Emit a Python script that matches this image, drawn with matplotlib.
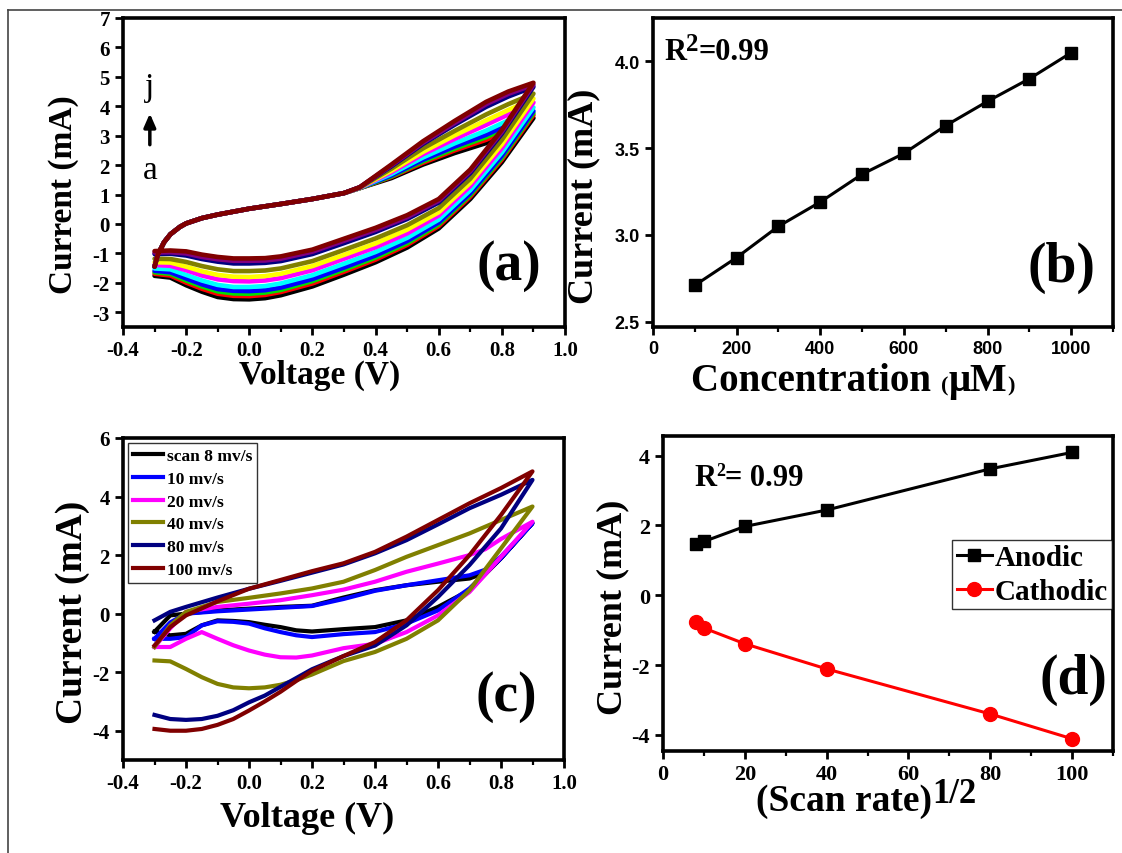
import matplotlib
matplotlib.use("Agg")
import matplotlib.pyplot as plt
from matplotlib.lines import Line2D
from matplotlib.transforms import IdentityTransform
from matplotlib.ticker import MultipleLocator

# ---------------- data ----------------
# Panel (a): CV curves a..j (+ blank) at increasing concentration
A_COLORS = ["#000000", "#FF0000", "#00E000", "#0000FF", "#00FFFF", "#FF00FF",
            "#FFFF00", "#808000", "#000080", "#800080", "#800000"]
A_V_FWD_COMMON = [-0.3, -0.29, -0.27, -0.25, -0.22, -0.2, -0.15, -0.1, 0.0, 0.1, 0.2, 0.3]
A_I_FWD_COMMON = [-1.45, -1.05, -0.62, -0.35, -0.1, 0.02, 0.2, 0.32, 0.52, 0.68, 0.85, 1.05]
A_V_FWD_DIV = [0.35, 0.45, 0.55, 0.65, 0.75, 0.82]
A_I_FWD_DIV = [
    [1.22, 1.56, 2.02, 2.41, 2.75, 3.10],
    [1.22, 1.60, 2.08, 2.50, 2.86, 3.21],
    [1.22, 1.62, 2.13, 2.56, 2.95, 3.30],
    [1.23, 1.65, 2.18, 2.63, 3.03, 3.38],
    [1.23, 1.70, 2.26, 2.74, 3.17, 3.52],
    [1.23, 1.76, 2.37, 2.89, 3.37, 3.72],
    [1.24, 1.81, 2.45, 3.01, 3.52, 3.87],
    [1.24, 1.88, 2.57, 3.16, 3.72, 4.07],
    [1.25, 1.96, 2.72, 3.37, 3.98, 4.33],
    [1.25, 1.99, 2.76, 3.43, 4.07, 4.42],
    [1.25, 2.02, 2.81, 3.50, 4.15, 4.50],
]
A_V_REV = [0.9, 0.8, 0.7, 0.6, 0.5, 0.4, 0.3, 0.2, 0.1, 0.05, 0.0, -0.05, -0.1, -0.15,
           -0.2, -0.25, -0.3]
A_I_REV = [
    [3.60, 2.10, 0.85, -0.15, -0.80, -1.30, -1.72, -2.12, -2.42, -2.52, -2.56, -2.55, -2.48, -2.30, -2.08, -1.82, -1.76],
    [3.70, 2.19, 0.93, -0.07, -0.71, -1.21, -1.62, -2.02, -2.31, -2.41, -2.45, -2.44, -2.37, -2.20, -1.99, -1.75, -1.69],
    [3.77, 2.25, 0.99, -0.01, -0.65, -1.14, -1.55, -1.94, -2.24, -2.33, -2.37, -2.36, -2.29, -2.12, -1.92, -1.69, -1.64],
    [3.84, 2.32, 1.05, 0.05, -0.58, -1.07, -1.48, -1.87, -2.16, -2.25, -2.28, -2.27, -2.21, -2.05, -1.85, -1.64, -1.59],
    [3.96, 2.43, 1.15, 0.15, -0.47, -0.95, -1.35, -1.74, -2.02, -2.11, -2.14, -2.14, -2.07, -1.92, -1.73, -1.54, -1.51],
    [4.13, 2.58, 1.29, 0.29, -0.32, -0.79, -1.18, -1.57, -1.84, -1.92, -1.95, -1.94, -1.88, -1.75, -1.57, -1.42, -1.39],
    [4.26, 2.71, 1.40, 0.40, -0.19, -0.66, -1.05, -1.43, -1.69, -1.77, -1.80, -1.79, -1.73, -1.61, -1.45, -1.31, -1.30],
    [4.43, 2.86, 1.54, 0.54, -0.04, -0.49, -0.88, -1.26, -1.51, -1.58, -1.60, -1.60, -1.54, -1.43, -1.29, -1.19, -1.18],
    [4.66, 3.07, 1.73, 0.73, 0.17, -0.27, -0.65, -1.02, -1.26, -1.32, -1.34, -1.34, -1.28, -1.19, -1.07, -1.01, -1.02],
    [4.73, 3.13, 1.79, 0.79, 0.23, -0.20, -0.57, -0.94, -1.18, -1.24, -1.25, -1.25, -1.20, -1.12, -1.00, -0.96, -0.97],
    [4.80, 3.20, 1.85, 0.85, 0.30, -0.13, -0.50, -0.87, -1.10, -1.16, -1.17, -1.17, -1.12, -1.04, -0.93, -0.90, -0.92],
]

# Panel (b): calibration
B_CONC = [100, 200, 300, 400, 500, 600, 700, 800, 900, 1000]
B_CURR = [2.71, 2.87, 3.05, 3.19, 3.35, 3.47, 3.63, 3.77, 3.90, 4.05]

# Panel (c): CVs at different scan rates
C_LABELS = ["scan 8 mv/s", "10 mv/s", "20 mv/s", "40 mv/s", "80 mv/s", "100 mv/s"]
C_COLORS = ["#000000", "#0000FF", "#FF00FF", "#808000", "#000080", "#800000"]
C_V_FWD = [-0.3, -0.25, -0.2, -0.1, 0.0, 0.1, 0.2, 0.3, 0.4, 0.5, 0.6, 0.7, 0.75, 0.8, 0.9]
C_I_FWD = [
    [-0.62, -0.06, 0.00, 0.11, 0.17, 0.23, 0.27, 0.55, 0.80, 0.97, 1.09, 1.20, 1.40, 1.90, 3.09],
    [-0.86, -0.30, 0.00, 0.08, 0.14, 0.20, 0.26, 0.50, 0.78, 0.97, 1.14, 1.31, 1.50, 1.95, 3.09],
    [-1.14, -0.50, 0.06, 0.23, 0.34, 0.46, 0.63, 0.82, 1.09, 1.43, 1.71, 2.00, 2.20, 2.55, 3.14],
    [-1.14, -0.40, 0.06, 0.40, 0.54, 0.69, 0.86, 1.09, 1.49, 1.94, 2.34, 2.74, 2.97, 3.20, 3.66],
    [-0.23, 0.06, 0.23, 0.55, 0.85, 1.12, 1.40, 1.68, 2.06, 2.51, 3.05, 3.60, 3.83, 4.06, 4.57],
    [-1.09, -0.46, -0.06, 0.42, 0.85, 1.15, 1.45, 1.72, 2.11, 2.63, 3.20, 3.77, 4.03, 4.29, 4.86],
]
C_V_REV = [0.9, 0.8, 0.7, 0.6, 0.5, 0.4, 0.3, 0.2, 0.15, 0.1, 0.05, 0.0, -0.05, -0.1,
           -0.15, -0.2, -0.25, -0.3]
C_I_REV = [
    [3.09, 1.89, 0.80, 0.23, -0.23, -0.46, -0.53, -0.61, -0.57, -0.46, -0.38, -0.29, -0.25, -0.23, -0.40, -0.69, -0.74, -0.62],
    [3.09, 1.89, 0.86, 0.11, -0.34, -0.63, -0.70, -0.80, -0.74, -0.63, -0.50, -0.34, -0.28, -0.26, -0.40, -0.80, -0.86, -0.86],
    [3.14, 1.94, 0.74, -0.06, -0.63, -1.03, -1.18, -1.43, -1.50, -1.49, -1.40, -1.26, -1.08, -0.86, -0.63, -0.86, -1.14, -1.14],
    [3.66, 2.23, 0.80, -0.23, -0.86, -1.31, -1.62, -2.08, -2.27, -2.43, -2.52, -2.55, -2.52, -2.40, -2.17, -1.89, -1.63, -1.60],
    [4.57, 2.91, 1.66, 0.57, -0.40, -1.09, -1.45, -1.90, -2.20, -2.50, -2.80, -3.03, -3.30, -3.49, -3.60, -3.63, -3.60, -3.46],
    [4.86, 3.37, 2.00, 0.80, -0.23, -0.97, -1.45, -1.95, -2.30, -2.67, -3.00, -3.31, -3.60, -3.80, -3.94, -4.00, -4.00, -3.94],
]

# Panel (d): peak current vs scan rate
D_RATE = [8, 10, 20, 40, 80, 100]
D_ANODIC = [1.47, 1.54, 1.97, 2.44, 3.62, 4.09]
D_CATHODIC = [-0.77, -0.94, -1.39, -2.11, -3.40, -4.11]

# ---------------- figure ----------------
W, H = 1122, 854
plt.rcParams["font.family"] = ["Liberation Serif", "DejaVu Serif"]
plt.rcParams["font.weight"] = "bold"
plt.rcParams["axes.unicode_minus"] = False

fig = plt.figure(figsize=(W / 100, H / 100), dpi=100)
renderer = fig.canvas.get_renderer()


def rect(l, t, r, b):
    return [l / W, 1 - b / H, (r - l) / W, (b - t) / H]


def style(ax, fs, sans=False):
    for s in ax.spines.values():
        s.set_linewidth(2.6)
    ax.tick_params(which="major", direction="out", length=6, width=2,
                   labelsize=fs, top=False, right=False)
    ax.tick_params(which="minor", direction="out", length=3.5, width=1.6,
                   top=False, right=False)
    for lab in ax.get_xticklabels() + ax.get_yticklabels():
        lab.set_fontweight("bold")
        if sans:
            lab.set_fontfamily(["Liberation Sans", "DejaVu Sans"])


def chain(pieces, x, y):
    """pieces: (text, size, raise_px); x,y in pixels from bottom-left (baseline)."""
    for text, size, rise in pieces:
        t = fig.text(x, y + rise, text, fontsize=size, fontweight="bold",
                     ha="left", va="baseline", transform=IdentityTransform())
        bb = t.get_window_extent(renderer=renderer)
        x = bb.x1


# ---- (a)
axa = fig.add_axes(rect(123, 19, 565, 328))
for k, col in enumerate(A_COLORS):
    v = A_V_FWD_COMMON + A_V_FWD_DIV + A_V_REV
    i = A_I_FWD_COMMON + A_I_FWD_DIV[k] + A_I_REV[k]
    axa.plot(v, i, color=col, lw=3.3, solid_joinstyle="round", solid_capstyle="round")
axa.set_xlim(-0.4, 1.0)
axa.set_ylim(-3.5, 7)
axa.xaxis.set_minor_locator(MultipleLocator(0.1))
axa.yaxis.set_major_locator(MultipleLocator(1))
axa.set_xticks([-0.4, -0.2, 0.0, 0.2, 0.4, 0.6, 0.8, 1.0])
axa.set_xticklabels(["-0.4", "-0.2", "0.0", "0.2", "0.4", "0.6", "0.8", "1.0"])
style(axa, 15)
axa.text(-0.315, 4.65, "j", fontsize=24, fontweight="normal", ha="center", va="center")
axa.text(-0.315, 1.85, "a", fontsize=24, fontweight="normal", ha="center", va="center")
axa.annotate("", xy=(-0.315, 3.85), xytext=(-0.315, 2.6),
             arrowprops=dict(arrowstyle="-|>,head_length=0.8,head_width=0.35",
                             color="black", lw=2.5))
axa.text(0.874, 0.2, "(a)", transform=axa.transAxes, fontsize=40,
         ha="center", va="center")

# ---- (b)
axb = fig.add_axes(rect(653, 19, 1113, 328))
axb.plot(B_CONC, B_CURR, color="black", lw=2.2, marker="s", ms=9)
axb.set_xlim(0, 1100)
axb.set_ylim(2.47, 4.25)
axb.xaxis.set_major_locator(MultipleLocator(200))
axb.xaxis.set_minor_locator(MultipleLocator(100))
axb.set_yticks([2.5, 3.0, 3.5, 4.0])
axb.set_yticklabels(["2.5", "3.0", "3.5", "4.0"])
style(axb, 13, sans=True)
axb.text(0.889, 0.195, "(b)", transform=axb.transAxes, fontsize=40,
         ha="center", va="center")

# ---- (c)
axc = fig.add_axes(rect(123, 439, 564, 761))
for k, col in enumerate(C_COLORS):
    axc.plot(C_V_FWD + C_V_REV, C_I_FWD[k] + C_I_REV[k], color=col, lw=3.0,
             label=C_LABELS[k], solid_joinstyle="round")
axc.set_xlim(-0.4, 1.0)
axc.set_ylim(-5, 6)
axc.set_xticks([-0.4, -0.2, 0.0, 0.2, 0.4, 0.6, 0.8, 1.0])
axc.set_xticklabels(["-0.4", "-0.2", "0.0", "0.2", "0.4", "0.6", "0.8", "1.0"])
axc.xaxis.set_minor_locator(MultipleLocator(0.1))
axc.set_yticks([-4, -2, 0, 2, 4, 6])
style(axc, 15)
legc = axc.legend(loc="upper left", bbox_to_anchor=(0.011, 0.985), borderaxespad=0,
                  frameon=True, fancybox=False, edgecolor="black",
                  borderpad=0.3, labelspacing=0.38, handlelength=1.7,
                  handletextpad=0.25, prop={"weight": "bold", "size": 12.5})
legc.get_frame().set_linewidth(1.0)
axc.text(0.869, 0.2, "(c)", transform=axc.transAxes, fontsize=40,
         ha="center", va="center")

# ---- (d)
axd = fig.add_axes(rect(663, 437, 1113, 752))
axd.plot(D_RATE, D_ANODIC, color="black", lw=2.2, marker="s", ms=9, label="Anodic")
axd.plot(D_RATE, D_CATHODIC, color="#FF0000", lw=2.2, marker="o", ms=10, label="Cathodic")
axd.set_xlim(0, 110)
axd.set_ylim(-4.46, 4.56)
axd.xaxis.set_major_locator(MultipleLocator(20))
axd.xaxis.set_minor_locator(MultipleLocator(10))
axd.set_yticks([-4, -2, 0, 2, 4])
style(axd, 16)
legd = axd.legend(loc="upper right", bbox_to_anchor=(0.998, 0.67), borderaxespad=0,
                  frameon=True, fancybox=False, edgecolor="black",
                  borderpad=0.15, labelspacing=0.22, handlelength=1.2,
                  handletextpad=0.1, prop={"weight": "bold", "size": 21})
legd.get_frame().set_linewidth(1.0)
axd.text(0.913, 0.229, "(d)", transform=axd.transAxes, fontsize=40,
         ha="center", va="center")

# ---- axis labels
fig.text(320 / W, 1 - 375 / H, "Voltage (V)", fontsize=24, ha="center", va="center")
fig.text(307 / W, 1 - 818 / H, "Voltage (V)", fontsize=26, ha="center", va="center")
fig.text(64 / W, 1 - 195 / H, "Current (mA)", fontsize=24, rotation=90, ha="center", va="center")
fig.text(584 / W, 1 - 196 / H, "Current (mA)", fontsize=26, rotation=90, ha="center", va="center")
fig.text(73 / W, 1 - 612 / H, "Current (mA)", fontsize=27, rotation=90, ha="center", va="center")
fig.text(613 / W, 1 - 607 / H, "Current (mA)", fontsize=26, rotation=90, ha="center", va="center")

chain([("Concentration ", 28, 0), ("(", 16, 0), ("\u03bcM", 28, 0), (")", 16, 0)], 691, H - 391)
chain([("(Scan rate)", 27, 0), ("1/2", 25, 8)], 756, H - 811)
chain([("R", 22, 0), ("2", 18, 9), ("=0.99", 22, 0)], 664, H - 60)
chain([("R", 22, 0), ("2", 13, 10), ("= 0.99", 22, 0)], 694, H - 486)

# ---- frame lines
fig.add_artist(Line2D([8 / W, 1.0], [1 - 11 / H, 1 - 11 / H], color="#444444", lw=1.2))
fig.add_artist(Line2D([8 / W, 8 / W], [1 - 11 / H, 0.0], color="#444444", lw=1.2))

fig.savefig("out.png", dpi=100)
